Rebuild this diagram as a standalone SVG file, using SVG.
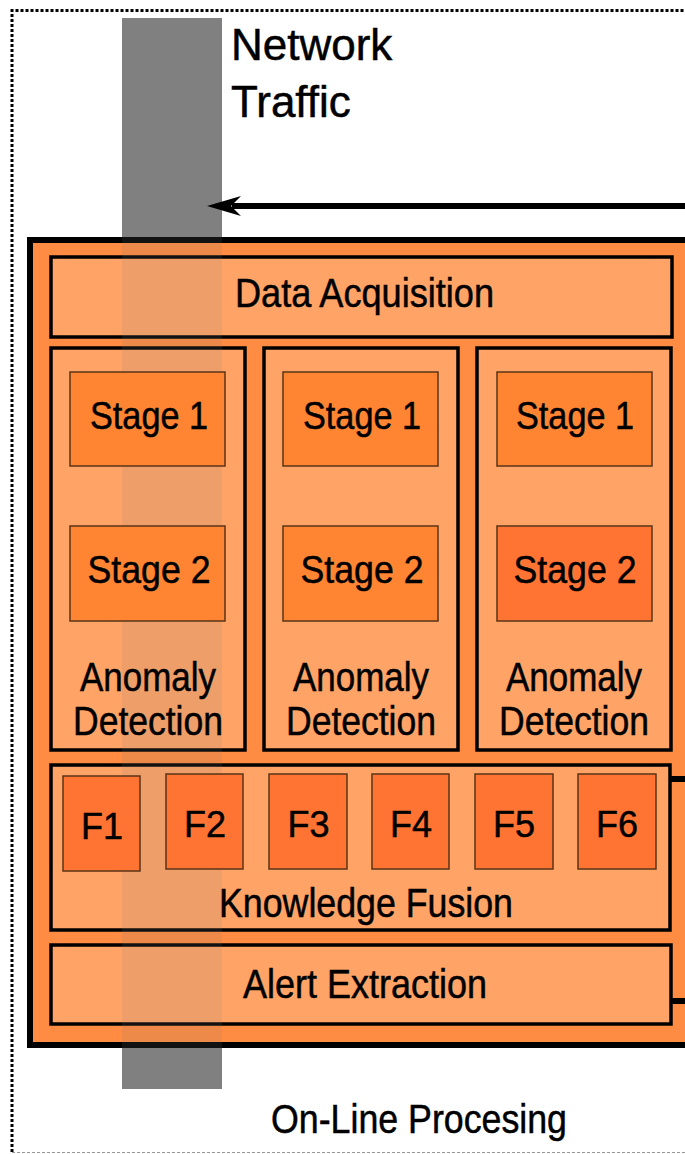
<svg xmlns="http://www.w3.org/2000/svg" width="685" height="1154" viewBox="0 0 685 1154">
<style>
  text { font-family: "Liberation Sans", Arial, sans-serif; fill: #000; stroke: #000; stroke-width: 0.5; }
  .lbl { font-size: 40px; text-anchor: middle; }
  .stg { font-size: 38px; text-anchor: middle; }
  .f { font-size: 36px; text-anchor: middle; }
  .outer { fill: #ff8c42; stroke: #000; stroke-width: 6; }
  .light { fill: #ffa366; stroke: #000; stroke-width: 3.5; }
  .stage { fill: #ff8533; stroke: #5a3418; stroke-width: 1.5; }
  .hot { fill: #ff7433; stroke: #5a3418; stroke-width: 1.5; }
  .conn { stroke: #000; stroke-width: 6; fill: none; }
</style>
<rect width="685" height="1154" fill="#fff"/>

<g id="online-processing-frame">
  <path d="M12,1152 L12,10.5 L700,10.5" fill="none" stroke="#000" stroke-width="3" stroke-dasharray="3 2"/>
  <line x1="12" y1="1152.5" x2="700" y2="1152.5" stroke="#999" stroke-width="1" stroke-dasharray="3 2"/>
  <text x="419" y="1133" class="lbl" textLength="296" lengthAdjust="spacingAndGlyphs">On-Line Procesing</text>
</g>

<g id="network-traffic">
  <rect x="122" y="18" width="100" height="1071" fill="#808080"/>
  <text x="231" y="60" font-size="44">Network</text>
  <text x="231" y="117" font-size="44">Traffic</text>
</g>

<g id="online-system">
  <rect class="outer" x="30" y="240" width="700" height="805"/>
</g>

<g id="data-acquisition">
  <rect class="light" x="51" y="257" width="621" height="80"/>
</g>
<g id="anomaly-detection-1">
  <rect class="light" x="51" y="348" width="194" height="402"/>
</g>
<g id="anomaly-detection-2">
  <rect class="light" x="264" y="348" width="194" height="402"/>
</g>
<g id="anomaly-detection-3">
  <rect class="light" x="477" y="348" width="194" height="402"/>
</g>
<g id="knowledge-fusion">
  <rect class="light" x="51" y="765" width="619" height="165"/>
</g>
<g id="alert-extraction">
  <rect class="light" x="51" y="945" width="620" height="79"/>
</g>

<g id="network-traffic-overlay">
  <rect x="122" y="237" width="100" height="811" fill="#808080" fill-opacity="0.14"/>
</g>

<g id="labels">
  <text x="364.5" y="307" class="lbl" textLength="259" lengthAdjust="spacingAndGlyphs">Data Acquisition</text>
  <text x="148" y="691" class="lbl" textLength="136" lengthAdjust="spacingAndGlyphs">Anomaly</text>
  <text x="148" y="735" class="lbl" textLength="150" lengthAdjust="spacingAndGlyphs">Detection</text>
  <text x="361" y="691" class="lbl" textLength="136" lengthAdjust="spacingAndGlyphs">Anomaly</text>
  <text x="361" y="735" class="lbl" textLength="150" lengthAdjust="spacingAndGlyphs">Detection</text>
  <text x="574" y="691" class="lbl" textLength="136" lengthAdjust="spacingAndGlyphs">Anomaly</text>
  <text x="574" y="735" class="lbl" textLength="150" lengthAdjust="spacingAndGlyphs">Detection</text>
  <text x="366" y="917" class="lbl" textLength="294" lengthAdjust="spacingAndGlyphs">Knowledge Fusion</text>
  <text x="365" y="998" class="lbl" textLength="244" lengthAdjust="spacingAndGlyphs">Alert Extraction</text>
</g>

<g id="stage1-col1"><rect class="stage" x="70" y="372" width="155" height="94"/><text x="149" y="429" class="stg" textLength="118" lengthAdjust="spacingAndGlyphs">Stage 1</text></g>
<g id="stage2-col1"><rect class="stage" x="70" y="526" width="155" height="95"/><text x="149" y="583" class="stg" textLength="123" lengthAdjust="spacingAndGlyphs">Stage 2</text></g>
<g id="stage1-col2"><rect class="stage" x="283" y="372" width="155" height="94"/><text x="362" y="429" class="stg" textLength="118" lengthAdjust="spacingAndGlyphs">Stage 1</text></g>
<g id="stage2-col2"><rect class="stage" x="283" y="526" width="155" height="95"/><text x="362" y="583" class="stg" textLength="123" lengthAdjust="spacingAndGlyphs">Stage 2</text></g>
<g id="stage1-col3"><rect class="stage" x="497" y="372" width="155" height="94"/><text x="575" y="429" class="stg" textLength="118" lengthAdjust="spacingAndGlyphs">Stage 1</text></g>
<g id="stage2-col3"><rect class="hot" x="497" y="526" width="155" height="95"/><text x="575" y="583" class="stg" textLength="123" lengthAdjust="spacingAndGlyphs">Stage 2</text></g>

<g id="f1"><rect class="hot" x="63" y="776" width="77" height="95"/><text x="102" y="839" class="f">F1</text></g>
<g id="f2"><rect class="hot" x="166" y="774" width="77" height="95"/><text x="205" y="837" class="f">F2</text></g>
<g id="f3"><rect class="hot" x="269" y="774" width="78" height="95"/><text x="308.5" y="837" class="f">F3</text></g>
<g id="f4"><rect class="hot" x="372" y="774" width="77" height="95"/><text x="411" y="837" class="f">F4</text></g>
<g id="f5"><rect class="hot" x="475" y="774" width="78" height="95"/><text x="514" y="837" class="f">F5</text></g>
<g id="f6"><rect class="hot" x="578" y="774" width="78" height="95"/><text x="617" y="837" class="f">F6</text></g>

<g id="connectors">
  <line class="conn" x1="690" y1="206" x2="232" y2="206"/>
  <path d="M207,206 L241,196 L231,206 L241,216 Z" fill="#000"/>
  <line class="conn" x1="670" y1="779" x2="690" y2="779"/>
  <line class="conn" x1="671" y1="1001" x2="690" y2="1001"/>
</g>
</svg>
